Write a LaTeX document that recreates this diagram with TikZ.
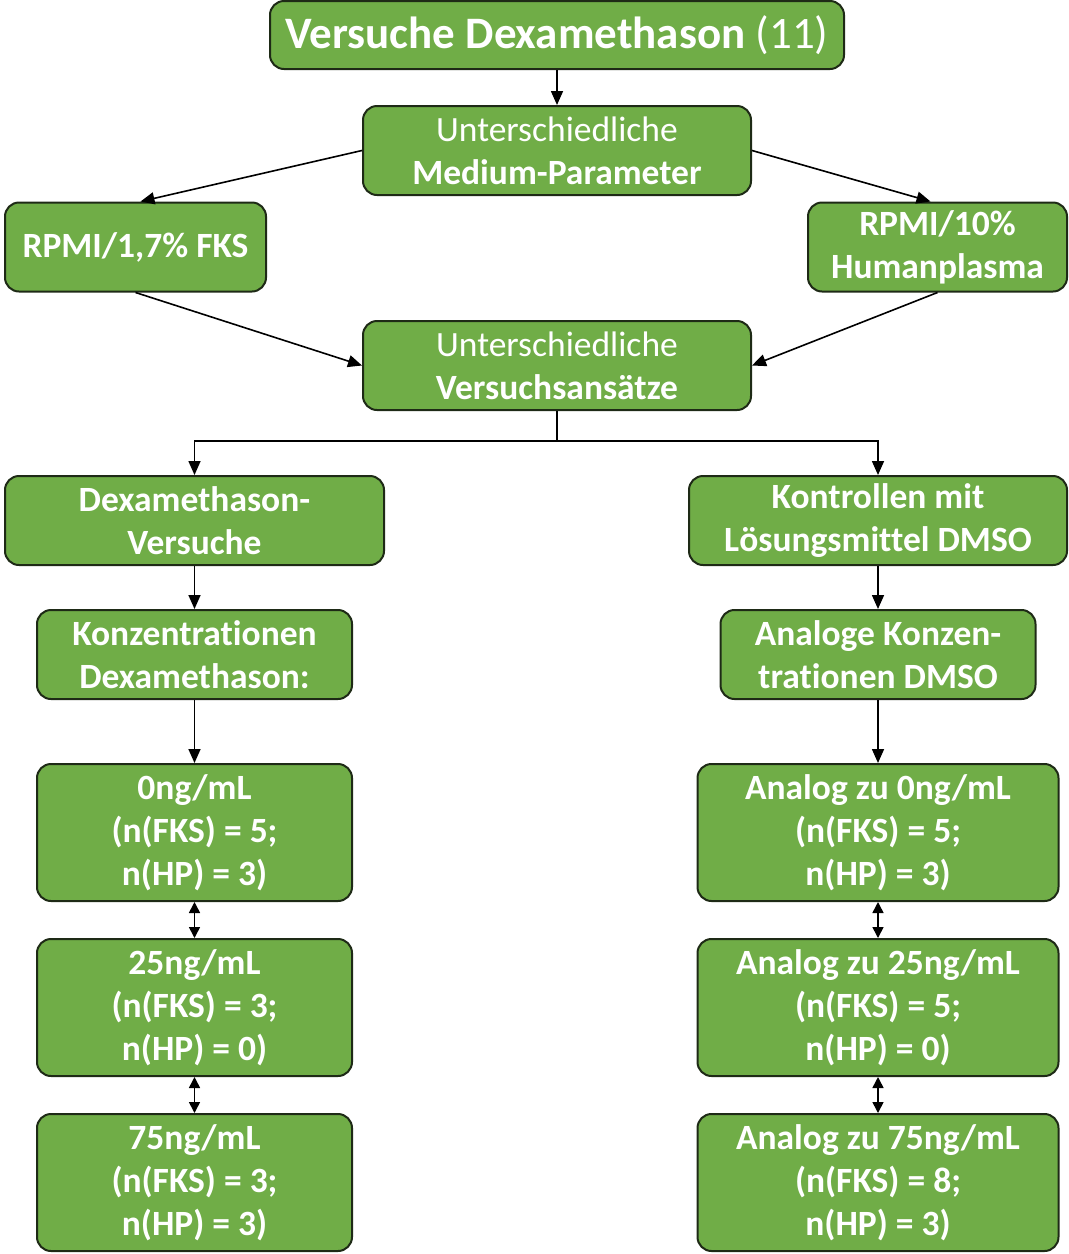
\documentclass[tikz,border=0pt]{standalone}
\usepackage{fontspec}
\setmainfont[Ligatures={NoCommon,NoRequired,NoContextual}]{Carlito}
\usetikzlibrary{positioning,calc,arrows.meta}

\definecolor{boxgreen}{HTML}{70AD47}
\definecolor{boxline}{HTML}{1E2A16}

\begin{document}
\begin{tikzpicture}[
  x=1pt, y=1pt,
  box/.style={rectangle, rounded corners=14pt, draw=boxline, line width=2pt, fill=boxgreen,
    text=white, align=center, inner sep=0pt, minimum height=89pt,
    font=\fontsize{35.5}{43}\selectfont\bfseries},
  tallbox/.style={box, minimum height=137pt},
  arrow/.style={-{Triangle[length=14pt,width=12pt]}, line width=1.6pt},
  both/.style={{Triangle[length=11pt,width=11pt]}-{Triangle[length=11pt,width=11pt]}, line width=1.6pt}
]
\useasboundingbox (0,0) rectangle (1069,-1254);

% top part
\node[box, minimum width=574pt, minimum height=68pt, font=\fontsize{45}{50}\selectfont] (title) at (557,-35)
  {\textbf{Versuche Dexamethason} (11)};
\node[box, minimum width=388pt] (med) [below=35pt of title]
  {\mdseries Unterschiedliche\\Medium-Parameter};
\draw[arrow] (title) -- (med);

\node[box, minimum width=261pt] (fks) at (135.5,-247) {RPMI/1,7\% FKS};
\node[box, minimum width=259pt] (hp) at (937.5,-247) {RPMI/10\%\\Humanplasma};
\draw[arrow] (med.west) -- ($(fks.north)+(5,0)$);
\draw[arrow] (med.east) -- ($(hp.north)+(-7,0)$);

\node[box, minimum width=388pt] (vers) [below=124pt of med]
  {\mdseries Unterschiedliche\\Versuchsans\"atze};
\draw[arrow] (fks.south) -- (vers.west);
\draw[arrow] (hp.south) -- (vers.east);

% two branches
\node[box, minimum width=379pt] (dex) at (194.5,-520.5) {Dexamethason-\\Versuche};
\node[box, minimum width=378pt] (ctrl) at (878,-520.5) {Kontrollen mit\\L\"osungsmittel DMSO};
\coordinate (fork) at ($(vers.south)+(0,-30)$);
\draw[line width=1.6pt] (vers.south) -- (fork);
\draw[arrow] (fork) -| (dex.north);
\draw[arrow] (fork) -| (ctrl.north);

% left column
\node[box, minimum width=315pt] (konz) [below=43pt of dex] {Konzentrationen\\Dexamethason:};
\node[tallbox, minimum width=315pt] (c0) [below=63pt of konz] {0ng/mL\\(n(FKS) = 5;\\n(HP) = 3)};
\node[tallbox, minimum width=315pt] (c25) [below=36pt of c0] {25ng/mL\\(n(FKS) = 3;\\n(HP) = 0)};
\node[tallbox, minimum width=315pt] (c75) [below=36pt of c25] {75ng/mL\\(n(FKS) = 3;\\n(HP) = 3)};
\draw[arrow] (dex) -- (konz);
\draw[arrow] (konz) -- (c0);
\draw[both] (c0) -- (c25);
\draw[both] (c25) -- (c75);

% right column
\node[box, minimum width=315pt] (ana) [below=43pt of ctrl] {Analoge Konzen-\\trationen DMSO};
\node[tallbox, minimum width=361pt] (a0) [below=63pt of ana] {Analog zu 0ng/mL\\(n(FKS) = 5;\\n(HP) = 3)};
\node[tallbox, minimum width=361pt] (a25) [below=36pt of a0] {Analog zu 25ng/mL\\(n(FKS) = 5;\\n(HP) = 0)};
\node[tallbox, minimum width=361pt] (a75) [below=36pt of a25] {Analog zu 75ng/mL\\(n(FKS) = 8;\\n(HP) = 3)};
\draw[arrow] (ctrl) -- (ana);
\draw[arrow] (ana) -- (a0);
\draw[both] (a0) -- (a25);
\draw[both] (a25) -- (a75);

\end{tikzpicture}
\end{document}
